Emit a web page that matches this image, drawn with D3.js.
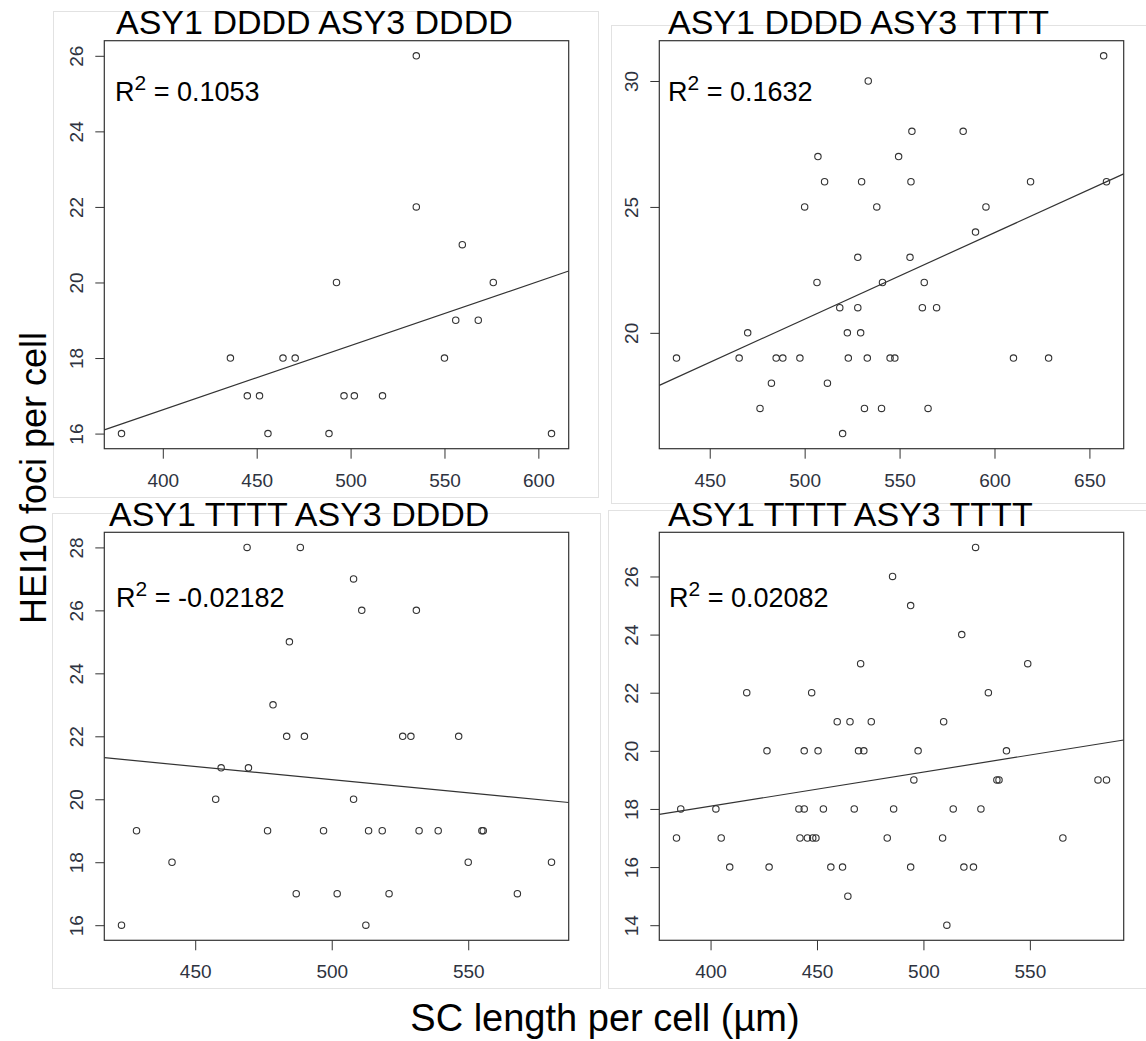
<!DOCTYPE html>
<html>
<head>
<meta charset="utf-8">
<title>HEI10 foci vs SC length</title>
<script src="https://cdnjs.cloudflare.com/ajax/libs/d3/7.8.5/d3.min.js"></script>
<style>
  body { margin: 0; background: #fff; }
  svg { display: block; font-family: "Liberation Sans", Arial, sans-serif; }
</style>
</head>
<body>
<svg id="chart"></svg>
<script>
const WIDTH = 1146, HEIGHT = 1041;

// panel titles and fit labels
const titles = ["ASY1 DDDD ASY3 DDDD", "ASY1 DDDD ASY3 TTTT", "ASY1 TTTT ASY3 DDDD", "ASY1 TTTT ASY3 TTTT"];
const r2Values = ["0.1053", "0.1632", "-0.02182", "0.02082"];

// SC length per cell (x) and HEI10 foci per cell (y)
const ddddX = [378, 436, 445, 451.5, 456, 464, 470.5, 488.5, 492.5, 496.5, 502, 517, 535, 535, 550, 556, 559.5, 568, 576, 607];
const ddddY = [16, 18, 17, 17, 16, 18, 18, 16, 20, 17, 17, 17, 26, 22, 18, 19, 21, 19, 20, 16];

const ddttX = [432.5, 465.5, 470, 476.5, 482.5, 485, 488.5, 497.5, 500, 506.5, 507, 510.5, 512, 518.5, 520, 522.5, 523, 528, 528, 529.5,
               530, 531.5, 533, 533.5, 538, 540.5, 541, 545, 547.5, 549.5, 555.5, 556, 556.5, 562, 563, 565, 569.5, 583.5, 590, 595.5,
               610, 619, 628.5, 657.5, 659];
const ddttY = [19, 19, 20, 17, 18, 19, 19, 19, 25, 22, 27, 26, 18, 21, 16, 20, 19, 21, 23, 20,
               26, 17, 19, 30, 25, 17, 22, 19, 19, 27, 23, 26, 28, 21, 22, 17, 21, 28, 24, 25,
               19, 26, 19, 31, 26];

const ttddX = [423, 428.5, 441.5, 457.5, 459.5, 469, 469.5, 476.5, 478.5, 483.5, 484.5, 487, 488.5, 490, 497, 502, 508, 508, 511, 512.5,
               513.5, 518.5, 521, 526, 529, 531, 532, 539, 546.5, 550, 555, 555.5, 568, 580.5];
const ttddY = [16, 19, 18, 20, 21, 28, 21, 19, 23, 22, 25, 17, 28, 22, 19, 17, 27, 20, 26, 16,
               19, 19, 17, 22, 22, 26, 19, 19, 22, 18, 19, 19, 17, 18];

const ttttX = [384, 386, 402.5, 405, 409, 417, 426.5, 427.5, 441.5, 442, 444, 444, 445.5, 447.5, 448, 449.5, 450.5, 453, 456.5, 459.5,
               462, 464.5, 465.5, 467.5, 469.5, 470.5, 472, 475.5, 483, 485.5, 486, 494, 494, 495.5, 497.5, 509, 509.5, 511, 514, 518,
               519, 523.5, 524.5, 527, 530.5, 534.5, 535.5, 539, 549, 565.5, 582, 586];
const ttttY = [17, 18, 18, 17, 16, 22, 20, 16, 18, 17, 18, 20, 17, 22, 17, 17, 20, 18, 16, 21,
               16, 15, 21, 18, 20, 23, 20, 21, 17, 26, 18, 16, 25, 19, 20, 17, 21, 14, 18, 24,
               16, 16, 27, 18, 22, 19, 19, 20, 23, 17, 19, 19];

const xTicks = [[400, 450, 500, 550, 600], [450, 500, 550, 600, 650], [450, 500, 550], [400, 450, 500, 550]];
const yTicks = [[16, 18, 20, 22, 24, 26], [20, 25, 30], [16, 18, 20, 22, 24, 26, 28], [14, 16, 18, 20, 22, 24, 26]];

const xLabel = "SC length per cell (µm)";
const yLabel = "HEI10 foci per cell";

// layout
const xs = [ddddX, ddttX, ttddX, ttttX];
const ys = [ddddY, ddttY, ttddY, ttttY];
const frames = [
    {x: 104.3, y: 40.7, w: 464.4, h: 408},
    {x: 659.3, y: 40.7, w: 464.4, h: 408},
    {x: 104.3, y: 532.3, w: 464.4, h: 408},
    {x: 659.3, y: 532.3, w: 464.4, h: 408}
];
const borders = [[53, 11, 545, 486], [611, 25, 540, 478], [52, 513, 548, 475], [608, 510, 540, 478]];
const titlePos = [[116, 34], [668, 34], [109, 526], [668, 526]];
const r2Pos = [[115, 101], [668, 101], [116, 607], [669, 607]];

const svg = d3.select("#chart")
    .attr("width", WIDTH)
    .attr("height", HEIGHT);

svg.append("rect").attr("width", WIDTH).attr("height", HEIGHT).attr("fill", "#fff");

// R style axis range: data range padded by 4%
function rDomain(vals) {
    const [lo, hi] = d3.extent(vals);
    const pad = (hi - lo) * 0.04;
    return [lo - pad, hi + pad];
}

function leastSquares(xv, yv) {
    const mx = d3.mean(xv), my = d3.mean(yv);
    let sxy = 0, sxx = 0;
    xv.forEach((v, i) => { sxy += (v - mx) * (yv[i] - my); sxx += (v - mx) * (v - mx); });
    const b = sxy / sxx;
    return {a: my - b * mx, b: b};
}

// light image borders first so titles sit over them
borders.forEach(b => {
    svg.append("rect")
        .attr("x", b[0] + 0.5).attr("y", b[1] + 0.5)
        .attr("width", b[2]).attr("height", b[3])
        .attr("fill", "none")
        .attr("stroke", "#e2e2e2")
        .attr("stroke-width", 1);
});

frames.forEach((f, i) => {
    const x = d3.scaleLinear().domain(rDomain(xs[i])).range([f.x, f.x + f.w]);
    const y = d3.scaleLinear().domain(rDomain(ys[i])).range([f.y + f.h, f.y]);
    const g = svg.append("g");

    // x axis
    const gx = g.append("g")
        .attr("transform", `translate(0,${f.y + f.h})`)
        .call(d3.axisBottom(x).tickValues(xTicks[i]).tickSize(10).tickSizeOuter(0));
    gx.select(".domain").remove();
    gx.selectAll("line").attr("stroke", "#333");
    gx.selectAll("text")
        .attr("y", 38).attr("dy", 0)
        .attr("fill", "#2e3340")
        .style("font-size", "19px")
        .style("font-family", "Liberation Sans, Arial, sans-serif");

    // y axis, labels parallel to the axis
    const gy = g.append("g")
        .attr("transform", `translate(${f.x},0)`)
        .call(d3.axisLeft(y).tickValues(yTicks[i]).tickSize(9).tickSizeOuter(0));
    gy.select(".domain").remove();
    gy.selectAll("line").attr("stroke", "#333");
    gy.selectAll("text")
        .attr("transform", "rotate(-90)")
        .attr("x", 0).attr("y", -21).attr("dy", 0)
        .attr("text-anchor", "middle")
        .attr("fill", "#2e3340")
        .style("font-size", "19px")
        .style("font-family", "Liberation Sans, Arial, sans-serif");

    // box
    g.append("rect")
        .attr("x", f.x).attr("y", f.y)
        .attr("width", f.w).attr("height", f.h)
        .attr("fill", "none")
        .attr("stroke", "#333")
        .attr("stroke-width", 1.2);

    // fitted line
    const fit = leastSquares(xs[i], ys[i]);
    const dom = x.domain();
    g.append("line")
        .attr("x1", x(dom[0])).attr("y1", y(fit.a + fit.b * dom[0]))
        .attr("x2", x(dom[1])).attr("y2", y(fit.a + fit.b * dom[1]))
        .attr("stroke", "#333")
        .attr("stroke-width", 1.2);

    // points
    g.selectAll("circle")
        .data(xs[i].map((v, k) => [v, ys[i][k]]))
        .enter()
        .append("circle")
        .attr("cx", d => x(d[0]))
        .attr("cy", d => y(d[1]))
        .attr("r", 3.2)
        .attr("fill", "none")
        .attr("stroke", "#333")
        .attr("stroke-width", 1.1);

    // title
    svg.append("text")
        .attr("x", titlePos[i][0]).attr("y", titlePos[i][1])
        .attr("fill", "#000")
        .style("font-size", "34px")
        .text(titles[i]);

    // R^2 label
    const t = svg.append("text")
        .attr("x", r2Pos[i][0]).attr("y", r2Pos[i][1])
        .attr("fill", "#000")
        .style("font-size", "27px");
    t.append("tspan").text("R");
    t.append("tspan").attr("dy", -11).style("font-size", "21px").text("2");
    t.append("tspan").attr("dy", 11).text(" = " + r2Values[i]);
});

// shared axis titles
svg.append("text")
    .attr("transform", "translate(46,478) rotate(-90)")
    .attr("text-anchor", "middle")
    .attr("fill", "#000")
    .style("font-size", "36px")
    .text(yLabel);

svg.append("text")
    .attr("x", 605).attr("y", 1031)
    .attr("text-anchor", "middle")
    .attr("fill", "#000")
    .style("font-size", "38px")
    .text(xLabel);
</script>
</body>
</html>
